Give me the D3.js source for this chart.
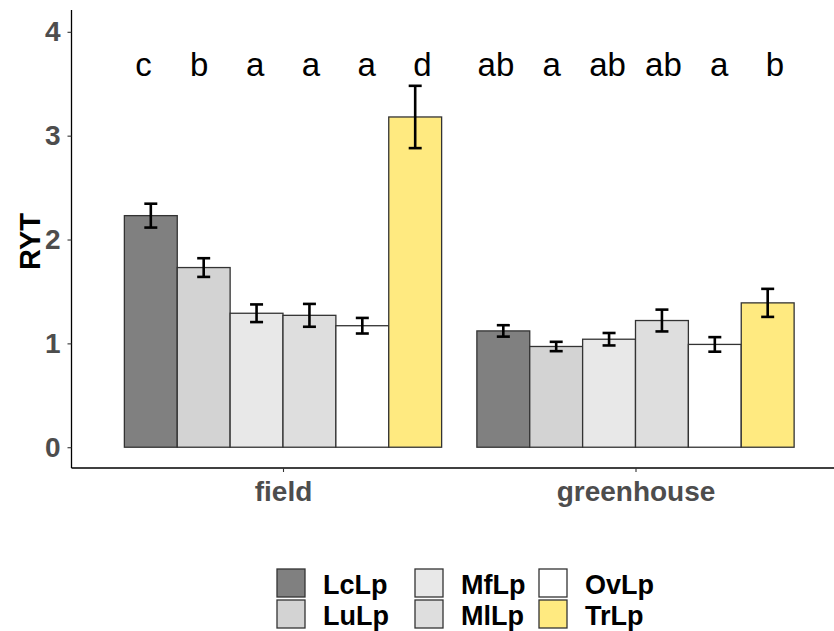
<!DOCTYPE html>
<html>
<head>
<meta charset="utf-8">
<script src="https://cdn.jsdelivr.net/npm/d3@7"></script>
<style>
  html, body { margin: 0; padding: 0; background: #fff; }
  svg { display: block; }
</style>
</head>
<body>
<svg id="chart" width="834" height="631"></svg>
<script>
// ---- data ----
const groups = ["field", "greenhouse"];
const series = ["LcLp", "LuLp", "MfLp", "MlLp", "OvLp", "TrLp"];
const fieldMeans = [2.23, 1.73, 1.29, 1.27, 1.17, 3.18];
const fieldSE = [0.115, 0.09, 0.085, 0.11, 0.075, 0.30];
const greenhouseMeans = [1.12, 0.97, 1.04, 1.22, 0.99, 1.39];
const greenhouseSE = [0.055, 0.045, 0.06, 0.105, 0.07, 0.135];
const fieldLetters = ["c", "b", "a", "a", "a", "d"];
const greenhouseLetters = ["ab", "a", "ab", "ab", "a", "b"];
const yTicks = [0, 1, 2, 3, 4];
const fillColors = ["#808080", "#D3D3D3", "#E8E8E8", "#DEDEDE", "#FFFFFF", "#FFEA80"];

(function () {
const rows = [];
groups.forEach((g, gi) => {
  const m = gi === 0 ? fieldMeans : greenhouseMeans;
  const s = gi === 0 ? fieldSE : greenhouseSE;
  const l = gi === 0 ? fieldLetters : greenhouseLetters;
  series.forEach((k, i) => rows.push({ group: g, key: k, mean: m[i], se: s[i], letter: l[i] }));
});

const svg = d3.select("#chart");
const pLeft = 71.5, pBottom = 468, pTop = 10, pRight = 847;
const FONT = "Liberation Sans, Arial, sans-serif";

const y = d3.scaleLinear().domain([-0.2, 4.21]).range([pBottom, pTop]);
const x = d3.scalePoint().domain(groups).range([pLeft, pRight]).padding(0.6);
const step = x.step();
const xi = d3.scaleBand().domain(series).range([-0.45 * step, 0.45 * step]);
const xl = d3.scaleBand().domain(series).range([-0.475 * step, 0.475 * step]);
const color = d3.scaleOrdinal().domain(series).range(fillColors);

// bars
svg.append("g").selectAll("rect").data(rows).join("rect")
  .attr("x", d => x(d.group) + xi(d.key))
  .attr("y", d => y(d.mean))
  .attr("width", xi.bandwidth())
  .attr("height", d => y(0) - y(d.mean))
  .attr("fill", d => color(d.key))
  .attr("stroke", "#333333")
  .attr("stroke-width", 1.3);

// error bars
const eb = svg.append("g").attr("stroke", "#000").attr("stroke-width", 2.6).attr("fill", "none");
rows.forEach(d => {
  const cx = x(d.group) + xi(d.key) + xi.bandwidth() / 2;
  const hw = 6.5;
  eb.append("line").attr("x1", cx).attr("x2", cx).attr("y1", y(d.mean + d.se)).attr("y2", y(d.mean - d.se));
  eb.append("line").attr("x1", cx - hw).attr("x2", cx + hw).attr("y1", y(d.mean + d.se)).attr("y2", y(d.mean + d.se));
  eb.append("line").attr("x1", cx - hw).attr("x2", cx + hw).attr("y1", y(d.mean - d.se)).attr("y2", y(d.mean - d.se));
});

// letters
svg.append("g").selectAll("text").data(rows).join("text")
  .attr("x", d => x(d.group) + xl(d.key) + xl.bandwidth() / 2)
  .attr("y", y(3.57))
  .attr("text-anchor", "middle")
  .attr("font-family", FONT)
  .attr("font-size", 33)
  .attr("fill", "#000")
  .text(d => d.letter);

// axes
const yAxis = d3.axisLeft(y).tickValues(yTicks).tickFormat(d3.format("d")).tickSize(4).tickPadding(7);
const gy = svg.append("g").attr("transform", `translate(${pLeft},0)`).call(yAxis);
gy.select(".domain").attr("d", `M0,${pTop}V${pBottom}`).attr("stroke", "#000").attr("stroke-width", 1.3);
gy.selectAll(".tick line").attr("stroke", "#333").attr("stroke-width", 1.1);
gy.selectAll(".tick text")
  .attr("font-family", FONT)
  .attr("font-weight", "bold").attr("font-size", 28).attr("fill", "#4D4D4D");

const xAxis = d3.axisBottom(x).tickSize(4).tickPadding(9);
const gx = svg.append("g").attr("transform", `translate(0,${pBottom})`).call(xAxis);
gx.select(".domain").attr("d", `M${pLeft},0H${pRight}`).attr("stroke", "#000").attr("stroke-width", 1.3);
gx.selectAll(".tick line").attr("stroke", "#333").attr("stroke-width", 1.1);
gx.selectAll(".tick text")
  .attr("font-family", FONT)
  .attr("font-weight", "bold").attr("font-size", 28).attr("fill", "#4D4D4D");

// y title
svg.append("text")
  .attr("transform", `translate(40,${(y(0) + y(4)) / 2 + 2}) rotate(-90)`)
  .attr("text-anchor", "middle")
  .attr("font-family", FONT)
  .attr("font-weight", "bold").attr("font-size", 29).attr("fill", "#000")
  .text("RYT");

// legend (3 columns x 2 rows, filled by column)
const legendX = [277, 415, 539];
const legendY = [569, 600];
const lg = svg.append("g");
series.forEach((k, i) => {
  const col = Math.floor(i / 2), row = i % 2;
  const lx = legendX[col], ly = legendY[row];
  lg.append("rect").attr("x", lx).attr("y", ly).attr("width", 28).attr("height", 28)
    .attr("fill", color(k)).attr("stroke", "#333").attr("stroke-width", 1.3);
  lg.append("text").attr("x", lx + 46).attr("y", ly + 25)
    .attr("font-family", FONT)
    .attr("font-weight", "bold").attr("font-size", 27).attr("fill", "#000")
    .text(k);
});
})();
</script>
</body>
</html>
